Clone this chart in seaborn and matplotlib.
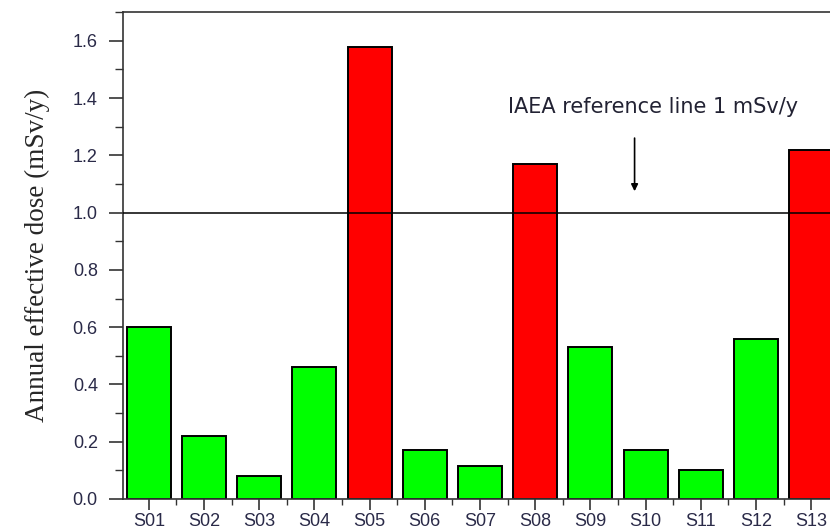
import matplotlib
matplotlib.use("Agg")
import matplotlib.pyplot as plt
from matplotlib.ticker import MultipleLocator, FixedLocator
import seaborn as sns
import pandas as pd

sites = ["S01", "S02", "S03", "S04", "S05", "S06", "S07",
         "S08", "S09", "S10", "S11", "S12", "S13"]
dose = [0.60, 0.22, 0.08, 0.46, 1.58, 0.17, 0.115,
        1.17, 0.53, 0.17, 0.10, 0.56, 1.22]
iaea_limit = 1.0

colors = ["#ff0000" if d > iaea_limit else "#00ff00" for d in dose]
df = pd.DataFrame({"site": sites, "dose": dose})

sns.set_style("white")
fig = plt.figure(figsize=(8.3, 5.3), dpi=100)
ax = fig.add_axes([0.148, 0.0585, 0.852, 0.9185])

sns.barplot(data=df, x="site", y="dose", hue="site", palette=colors,
            legend=False, width=0.8, edgecolor="black", linewidth=1.4,
            saturation=1, ax=ax)

ax.axhline(iaea_limit, color="black", lw=1.1, zorder=5)

ax.set_xlim(-0.47, 12.34)
ax.yaxis.set_major_locator(MultipleLocator(0.2))
ax.yaxis.set_minor_locator(MultipleLocator(0.1))
ax.xaxis.set_minor_locator(FixedLocator([i + 0.5 for i in range(-1, 13)]))
ax.tick_params(bottom=True, left=True, which="both")
ax.tick_params(axis="y", which="major", direction="out", length=10,
               width=1.2, color="#333333", pad=8)
ax.tick_params(axis="y", which="minor", direction="out", length=6,
               width=1.0, color="#333333")
ax.tick_params(axis="x", which="major", direction="out", length=8,
               width=1.2, color="#333333", pad=2)
ax.tick_params(axis="x", which="minor", direction="out", length=4,
               width=1.0, color="#333333")
ax.set_yticks([0.0, 0.2, 0.4, 0.6, 0.8, 1.0, 1.2, 1.4, 1.6])
ax.set_yticklabels([f"{t:.1f}" for t in ax.get_yticks()])
for lab in ax.get_xticklabels() + ax.get_yticklabels():
    lab.set_family("Liberation Sans")
    lab.set_fontsize(13)
    lab.set_color("#2a2a48")
ax.set_ylim(0, 1.7)

ax.set_xlabel("")
ax.set_ylabel("Annual effective dose (mSv/y)", family="Liberation Serif",
              fontsize=19.5, labelpad=16)

for side in ["left", "top", "bottom"]:
    ax.spines[side].set_visible(True)
    ax.spines[side].set_color("#333333")
    ax.spines[side].set_linewidth(1.2)
ax.spines["right"].set_visible(False)

ax.annotate("", xy=(8.8, 1.065), xytext=(8.8, 1.27),
            arrowprops=dict(arrowstyle="-|>", color="black", lw=1.2,
                            mutation_scale=10))
ax.text(9.13, 1.37, "IAEA reference line 1 mSv/y", ha="center", va="center",
        fontsize=15, family="DejaVu Sans", color="#222233")

fig.savefig("out.png", dpi=100)
